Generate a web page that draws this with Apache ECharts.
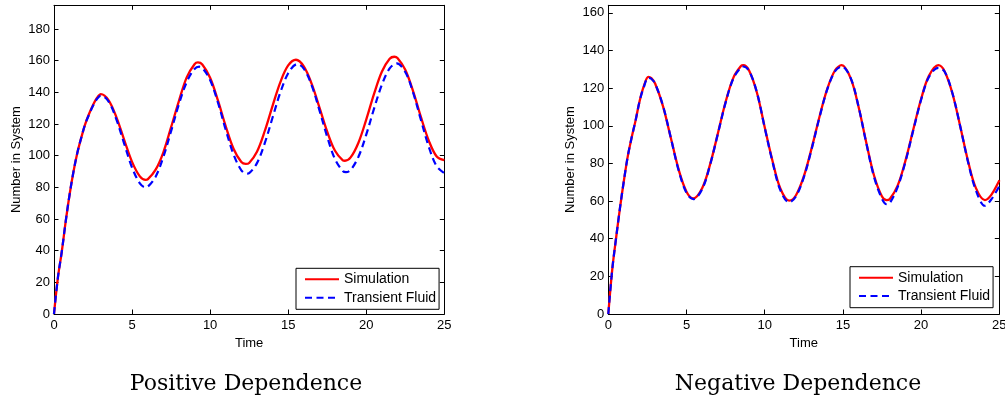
<!DOCTYPE html>
<html>
<head>
<meta charset="utf-8">
<script src="https://cdn.jsdelivr.net/npm/echarts@6/dist/echarts.min.js"></script>
<style>
  html, body { margin: 0; padding: 0; background: #fff; }
  #chart { width: 1005px; height: 404px; }
</style>
</head>
<body>
<div id="chart"></div>
<script>
// ---- Positive Dependence ----
const posSimTimes = [0, 0.25, 0.5, 0.75, 1, 1.25, 1.5, 1.75, 2, 2.25, 2.5, 2.75,
  3, 3.5, 4, 4.5, 5, 5.5, 5.87, 6, 6.5, 7, 7.5, 8, 8.5, 9, 9.22, 9.5,
  10, 10.5, 11, 11.5, 12, 12.28, 12.5, 13, 13.5, 14, 14.5, 15, 15.5,
  16, 16.5, 17, 17.5, 18, 18.5, 18.64, 19, 19.5, 20, 20.5, 21, 21.5, 21.8,
  22, 22.5, 23, 23.5, 24, 24.5, 25];
const posSimulation = [0, 23, 39.5, 58.5, 75.5, 90, 102, 111.5, 120, 126.5, 132, 136.5,
  138.9, 135.0, 124.2, 109.9, 96.1, 86.9, 84.7, 85.0, 91.0, 102, 118, 134.5, 149.5, 157.8, 158.9, 157.6,
  149.2, 134.9, 118.6, 104.4, 96.0, 94.8, 95.4, 102.5, 115.6, 131.5, 146.5, 157, 160.6,
  156.4, 145.5, 130.6, 115.2, 103.1, 97.1, 96.8, 98.9, 108.2, 122.8, 139.0, 153.0, 161.2, 162.5,
  161.7, 154.3, 140.8, 124.5, 109.7, 99.7, 97.2];

const posFluidTimes = [0, 0.25, 0.5, 0.75, 1, 1.25, 1.5, 1.75, 2, 2.25, 2.5, 2.75,
  3, 3.5, 4, 4.5, 5, 5.5, 5.85, 6, 6.5, 7, 7.5, 8, 8.5, 9, 9.3, 9.5,
  10, 10.5, 11, 11.5, 12, 12.35, 12.5, 13, 13.5, 14, 14.5, 15, 15.5, 15.6,
  16, 16.5, 17, 17.5, 18, 18.5, 18.7, 19, 19.5, 20, 20.5, 21, 21.5, 21.95,
  22.5, 23, 23.5, 24, 24.5, 25];
const posFluid = [0, 23, 39.5, 58.5, 75.5, 90, 102, 111.5, 120, 126, 131.5, 135.8,
  138, 134.2, 122.8, 107.5, 92.5, 82.5, 80.1, 80.4, 86.6, 99.1, 115.5, 132.5, 146.5, 154.8, 156.2, 155.5,
  147.8, 133.6, 116.4, 100.8, 90.8, 88.7, 89.0, 95.3, 107.9, 124.1, 140.0, 152.1, 157.7, 157.8,
  155.0, 144.6, 128.8, 111.9, 97.8, 90.3, 89.6, 91.0, 99.3, 113.3, 129.7, 144.8, 155.1, 158.3,
  152.9, 139.9, 122.7, 105.8, 93.5, 89.0];

// ---- Negative Dependence ----
const negTimes = [0, 0.25, 0.5, 0.75, 1, 1.25, 1.5, 1.75, 2, 2.25, 2.56, 2.75,
  3, 3.5, 4, 4.5, 5, 5.43, 6, 6.5, 7, 7.5, 8, 8.5, 8.63, 9,
  9.5, 10, 10.5, 11, 11.57, 12, 12.5, 13, 13.5, 14, 14.5, 14.92,
  15.5, 16, 16.5, 17, 17.5, 17.8, 18, 18.5, 19, 19.5, 20, 20.5, 21.1,
  21.5, 22, 22.5, 23, 23.5, 24.08, 24.5, 25];
const negSimulation = [0, 23.5, 40.5, 56.5, 71, 84, 94, 103, 113, 120.5, 126, 125.3,
  122.3, 110.3, 93.5, 76.7, 65.0, 61.4, 66.8, 79.2, 95.7, 112.6, 125.6, 131.9, 132.2, 129.4,
  117.7, 99.2, 81.3, 66.7, 60.2, 63.1, 73.1, 88.0, 104.7, 119.6, 129.5, 132.2,
  125.2, 110.1, 90.9, 73.3, 62.4, 60.5, 61.1, 68.2, 81.5, 98.0, 114.2, 126.5, 132.2,
  129.0, 117.3, 99.8, 81.3, 67.0, 60.5, 63.4, 71];
const negFluid = [0, 23.5, 40.5, 56.5, 71, 84, 94, 103, 113, 120, 125.5, 125,
  122.3, 110.5, 93.5, 76.2, 64.3, 61.0, 66.3, 79.0, 95.5, 112.3, 125.2, 131.2, 131.5, 129.2,
  117.8, 99.0, 80.8, 65.8, 59.3, 62.5, 72.6, 87.6, 104.4, 119.3, 129.0, 131.5,
  125.3, 110.2, 90.6, 72.6, 61.2, 58.3, 59.0, 67.4, 80.9, 97.6, 113.8, 125.9, 130.8,
  128.8, 117.4, 99.8, 80.8, 65.8, 57.5, 61.0, 68];

const seriesNames = ['Simulation', 'Transient Fluid'];
const panelTitles = ['Positive Dependence', 'Negative Dependence'];
const xTicks = { min: 0, max: 25, interval: 5 };
const yAxisPos = { min: 0, max: 195, interval: 20 };
const yAxisNeg = { min: 0, max: 164, interval: 20 };

const pairs = (ts, vs) => ts.map((t, i) => [t, vs[i]]);

const FONT = 'Liberation Sans';
const tickStyle = { show: true, inside: true, length: 4.5, lineStyle: { color: '#000', width: 1 } };
const lineStyleAxis = { show: true, onZero: false, lineStyle: { color: '#000', width: 1 } };

function xAxes(gridIndex) {
  return [
    { type: 'value', gridIndex, position: 'bottom', min: xTicks.min, max: xTicks.max, interval: xTicks.interval,
      axisLine: lineStyleAxis, axisTick: tickStyle, splitLine: { show: false },
      axisLabel: { color: '#000', fontSize: 13, fontFamily: FONT, margin: 5 },
      name: 'Time', nameLocation: 'middle', nameGap: 19,
      nameTextStyle: { color: '#000', fontSize: 13, fontFamily: FONT } },
    { type: 'value', gridIndex, position: 'top', min: xTicks.min, max: xTicks.max, interval: xTicks.interval,
      axisLine: lineStyleAxis, axisTick: tickStyle, splitLine: { show: false }, axisLabel: { show: false } }
  ];
}
function yAxes(gridIndex, r) {
  return [
    { type: 'value', gridIndex, position: 'left', min: r.min, max: r.max, interval: r.interval,
      axisLine: lineStyleAxis, axisTick: tickStyle, splitLine: { show: false },
      axisLabel: { color: '#000', fontSize: 13, fontFamily: FONT, margin: 4, showMaxLabel: false },
      name: 'Number in System', nameLocation: 'middle', nameGap: 31,
      nameTextStyle: { color: '#000', fontSize: 13, fontFamily: FONT } },
    { type: 'value', gridIndex, position: 'right', min: r.min, max: r.max, interval: r.interval,
      axisLine: lineStyleAxis, axisTick: tickStyle, splitLine: { show: false }, axisLabel: { show: false } }
  ];
}

function lineSeries(name, ts, vs, xi, yi) {
  const dashed = name === seriesNames[1];
  return {
    name, type: 'line', xAxisIndex: xi, yAxisIndex: yi, data: pairs(ts, vs),
    smooth: 0.35, symbol: 'none', showSymbol: false, animation: false,
    lineStyle: dashed ? { color: '#0000ff', width: 2.2, type: [7, 4.5] } : { color: '#ff0000', width: 2.3 },
    itemStyle: { color: dashed ? '#0000ff' : '#ff0000' },
    z: dashed ? 3 : 2
  };
}

function legend(left, top) {
  return {
    orient: 'vertical', left, top, data: seriesNames, selectedMode: false,
    itemWidth: 34, itemHeight: 14, itemGap: 4.4,
    padding: [4, 3, 4.6, 8],
    itemStyle: { opacity: 0 },
    backgroundColor: '#fff', borderColor: '#000', borderWidth: 1, borderRadius: 0,
    textStyle: { color: '#000', fontSize: 14, fontFamily: FONT }
  };
}

const chart = echarts.init(document.getElementById('chart'), null, { renderer: 'canvas' });
chart.setOption({
  animation: false,
  backgroundColor: '#fff',
  grid: [
    { left: 54, top: 5.3, width: 390.3, height: 308.7, outerBoundsMode: 'none', containLabel: false },
    { left: 608.3, top: 5.3, width: 391, height: 308.7, outerBoundsMode: 'none', containLabel: false }
  ],
  xAxis: [...xAxes(0), ...xAxes(1)],
  yAxis: [...yAxes(0, yAxisPos), ...yAxes(1, yAxisNeg)],
  legend: [legend(296, 268.3), legend(850, 266.7)],
  series: [
    lineSeries(seriesNames[0], posSimTimes, posSimulation, 0, 0),
    lineSeries(seriesNames[1], posFluidTimes, posFluid, 0, 0),
    lineSeries(seriesNames[0], negTimes, negSimulation, 2, 2),
    lineSeries(seriesNames[1], negTimes, negFluid, 2, 2)
  ],
  graphic: [
    { type: 'text', x: 246, y: 384, style: { text: panelTitles[0], fill: '#000', font: '22px "DejaVu Serif"', textAlign: 'center', textVerticalAlign: 'middle' } },
    { type: 'text', x: 798, y: 384, style: { text: panelTitles[1], fill: '#000', font: '22px "DejaVu Serif"', textAlign: 'center', textVerticalAlign: 'middle' } }
  ]
});
</script>
</body>
</html>
